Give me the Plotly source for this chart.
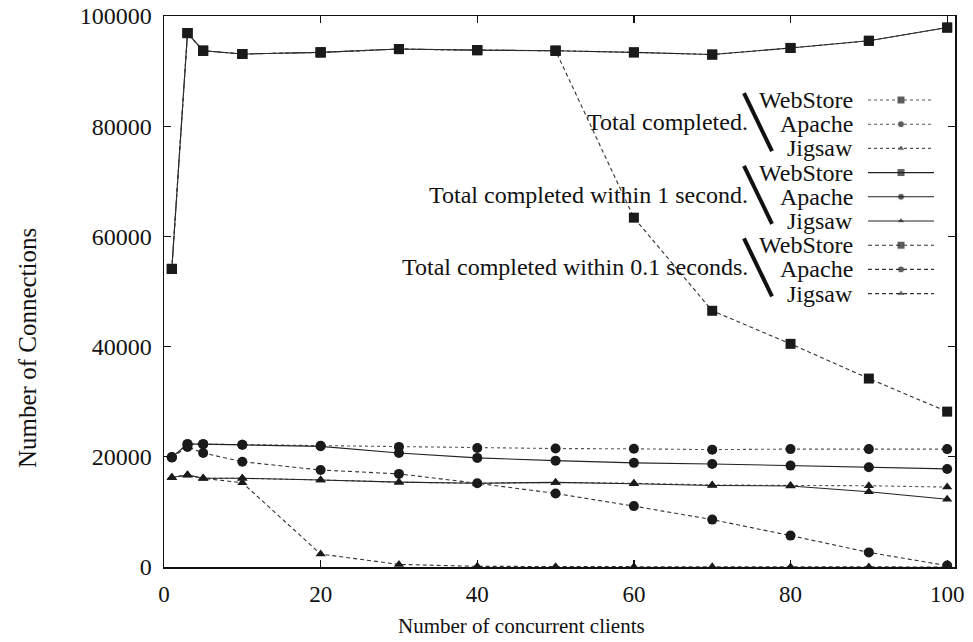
import plotly.graph_objects as go

# ---------------- data ----------------
clients = [1, 3, 5, 10, 20, 30, 40, 50, 60, 70, 80, 90, 100]

webstore_total = [54100, 96900, 93700, 93100, 93400, 94000, 93800, 93700, 93400, 93000, 94200, 95500, 97900]
apache_total   = [19900, 22300, 22300, 22200, 22000, 21800, 21600, 21500, 21450, 21300, 21400, 21400, 21400]
jigsaw_total   = [16250, 16700, 16100, 16100, 15800, 15400, 15200, 15350, 15200, 14900, 14800, 14750, 14500]

webstore_1s = [54100, 96900, 93700, 93100, 93400, 94000, 93800, 93700, 93400, 93000, 94200, 95500, 97900]
apache_1s   = [19900, 22300, 22300, 22200, 21900, 20700, 19800, 19300, 18900, 18700, 18400, 18100, 17800]
jigsaw_1s   = [16250, 16700, 16100, 16100, 15800, 15400, 15200, 15350, 15100, 14800, 14700, 13650, 12300]

webstore_01s = [54100, 96900, 93700, 93100, 93400, 94000, 93800, 93700, 63400, 46500, 40500, 34200, 28200]
apache_01s   = [19900, 21800, 20700, 19100, 17600, 16900, 15200, 13350, 11050, 8600, 5700, 2650, 250]
jigsaw_01s   = [16250, 16700, 16100, 15300, 2350, 470, 120, 60, 40, 30, 20, 15, 10]

servers = ["WebStore", "Apache", "Jigsaw"]
group_labels = ["Total completed.", "Total completed within 1 second.", "Total completed within 0.1 seconds."]
x_ticks = [0, 20, 40, 60, 80, 100]
y_ticks = [0, 20000, 40000, 60000, 80000, 100000]

groups = [
    ([webstore_total, apache_total, jigsaw_total], "dot", "#555555"),
    ([webstore_1s, apache_1s, jigsaw_1s], "solid", "#222222"),
    ([webstore_01s, apache_01s, jigsaw_01s], "4px,3px", "#333333"),
]
symbols = ["square", "circle", "triangle-up"]
msizes = [10, 10, 9]
leg_msizes = [8, 7, 7]

FONT = "Liberation Serif, Times New Roman, serif"

fig = go.Figure()

for series, dash, col in groups:
    for vals, sym, ms in zip(series, symbols, msizes):
        fig.add_trace(go.Scatter(
            x=clients, y=vals, mode="lines+markers",
            line=dict(color=col, width=1.1, dash=dash),
            marker=dict(symbol=sym, size=ms, color="#1a1a1a"),
            showlegend=False, hoverinfo="skip"))

# ---------------- custom gnuplot-style key ----------------
# plot area in page pixels: left 164, right 955, top 16, bottom 567
L, R, T, B = 164, 955, 16, 567
W, H = 973, 642
def px(xp):
    return (xp - L) / (R - L)
def py(yp):
    return (B - yp) / (B - T)

row_y0 = 100
row_dy = 24.2
shapes = []
annotations = []
leg_mx, leg_my, leg_sym, leg_sz = [], [], [], []
for g, (series, dash, col) in enumerate(groups):
    for s in range(3):
        yy = row_y0 + (g * 3 + s) * row_dy
        shapes.append(dict(type="line", xref="paper", yref="paper",
                           x0=px(868), x1=px(934), y0=py(yy), y1=py(yy),
                           line=dict(color=col, width=1.1, dash=dash)))
        leg_mx.append(px(901))
        leg_my.append(py(yy))
        leg_sym.append(symbols[s])
        leg_sz.append(leg_msizes[s])
        annotations.append(dict(text=servers[s], xref="paper", yref="paper",
                                x=px(855), y=py(yy), xanchor="right", yanchor="middle",
                                showarrow=False, font=dict(family=FONT, size=24, color="#111")))
    ymid = row_y0 + (g * 3 + 1) * row_dy
    annotations.append(dict(text=group_labels[g], xref="paper", yref="paper",
                            x=px(750), y=py(ymid - 2), xanchor="right", yanchor="middle",
                            showarrow=False, font=dict(family=FONT, size=24, color="#111")))
    shapes.append(dict(type="line", xref="paper", yref="paper",
                       x0=px(744), y0=py(ymid - 31), x1=px(772), y1=py(ymid + 27),
                       line=dict(color="#111111", width=4)))

fig.add_trace(go.Scatter(
    x=leg_mx, y=leg_my, mode="markers", xaxis="x2", yaxis="y2",
    marker=dict(symbol=leg_sym, size=leg_sz, color="#1a1a1a"),
    showlegend=False, hoverinfo="skip"))

annotations.append(dict(text="Number of concurrent clients", xref="paper", yref="paper",
                        x=px(521), y=py(626), xanchor="center", yanchor="middle",
                        showarrow=False, font=dict(family=FONT, size=21, color="#111")))
annotations.append(dict(text="Number of Connections", xref="paper", yref="paper",
                        x=px(27), y=py(348), xanchor="center", yanchor="middle", textangle=-90,
                        showarrow=False, font=dict(family=FONT, size=25, color="#111")))

axis_common = dict(showgrid=False, zeroline=False, showline=True, linecolor="#111",
                   linewidth=1.5, mirror="ticks", ticks="inside", ticklen=7,
                   tickcolor="#111", tickwidth=1.2, automargin=False,
                   ticklabeloverflow="allow")

fig.update_layout(
    width=W, height=H,
    margin=dict(l=L, r=W - R, t=T, b=H - B, autoexpand=False),
    paper_bgcolor="white", plot_bgcolor="white",
    hovermode=False,
    xaxis=dict(range=[0, 101], tickvals=x_ticks, ticklabelstandoff=6,
               tickfont=dict(family=FONT, size=23, color="#111"), **axis_common),
    yaxis=dict(range=[0, 100000], tickvals=y_ticks, ticklabelstandoff=6,
               tickformat="d", tickfont=dict(family=FONT, size=24, color="#111"), **axis_common),
    xaxis2=dict(overlaying="x", range=[0, 1], visible=False),
    yaxis2=dict(overlaying="y", range=[0, 1], visible=False),
    shapes=shapes,
    annotations=annotations,
)

fig.write_html("out.html",
               config={"displayModeBar": False, "staticPlot": True},
               post_script="document.body.style.margin='0px';document.body.style.overflow='hidden';")
